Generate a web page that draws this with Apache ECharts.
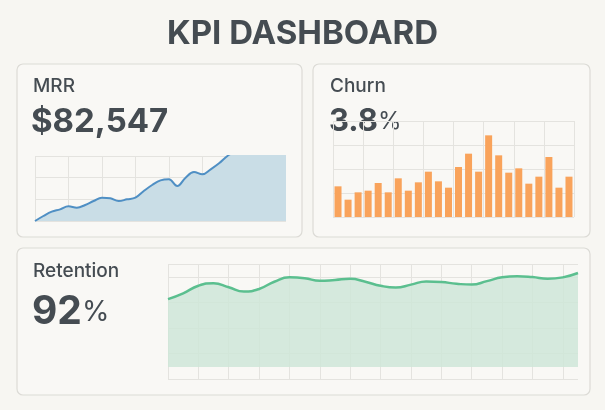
<!DOCTYPE html><html><head><meta charset="utf-8">
<script src="https://cdn.jsdelivr.net/npm/echarts@6/dist/echarts.min.js"></script>
<style>html,body{margin:0;padding:0;background:#f7f6f2}#c{width:605px;height:410px}</style></head><body><div id="c"></div>
<script>
const mrrValues=[0,15,28,35,44,40,48,60,70,68,60,65,70,90,108,122,125,105,130,147,140,155,173,195,208,204,222,255,285,292,314];
const churnValues=[92,52,74,79,102,74,116,79,104,136,107,88,150,190,136,245,185,133,146,100,121,180,88,121];
const retentionValues=[234,254,280,289,275,260,269,294,309,306,297,300,304,294,280,274,284,295,293,287,284,296,309,313,310,304,309,324];
const idx=a=>a.map((_,i)=>i);
const ch=echarts.init(document.getElementById('c'));
const gl={show:true,lineStyle:{color:'#e4e3df',width:1}};
const font='Inter, "Noto Sans", sans-serif';
const card=(x,y,w,h)=>({type:'rect',shape:{x,y,width:w,height:h,r:6},style:{fill:'#f9f8f5',stroke:'#dcdbd6',lineWidth:1.2},z:-10});
const txt=(x,y,t,s,w)=>({type:'text',x,y,style:{text:t,fontSize:s,fontWeight:w||'normal',fill:'#454c52',fontFamily:font}});
ch.setOption({
 backgroundColor:'#f7f6f2',
 title:{text:'KPI DASHBOARD',left:'center',top:13,textStyle:{fontSize:33,fontWeight:'bold',color:'#454c52',fontFamily:font}},
 graphic:[card(17,64,285,173),card(313,64,277,173),card(17,248,573,147),
  txt(33,77,'MRR',19,'500'),txt(31,106,'$82,547',33,'bold'),
  txt(330,77,'Churn',19,'500'),
  {type:'text',x:329,y:106,style:{rich:{a:{fontSize:31,fontWeight:'bold',fill:'#454c52',fontFamily:font},b:{fontSize:24,fill:'#454c52',fontFamily:font}},text:'{a|3.8}{b|%}'}},
  txt(33,262,'Retention',19,'500'),
  {type:'text',x:32,y:293,style:{rich:{a:{fontSize:39,fontWeight:'bold',fill:'#454c52',fontFamily:font},b:{fontSize:28,fill:'#454c52',fontFamily:font}},text:'{a|92}{b|%}'}}
 ],
 grid:[{left:35,width:251,top:156,height:65},{left:333,width:241,top:121,height:96},{left:168,width:410,top:264,height:115}],
 xAxis:[
  {gridIndex:0,type:'category',boundaryGap:false,data:idx(mrrValues),axisLine:{show:false},axisTick:{show:false},axisLabel:{show:false},splitLine:Object.assign({interval:3},gl)},
  {gridIndex:1,type:'category',data:idx(churnValues),axisLine:{show:false},axisTick:{show:false},axisLabel:{show:false},splitLine:Object.assign({interval:2},gl)},
  {gridIndex:2,type:'category',boundaryGap:false,data:idx(retentionValues),axisLine:{show:false},axisTick:{show:false},axisLabel:{show:false},splitLine:Object.assign({interval:1},gl)}],
 yAxis:[
  {gridIndex:0,type:'value',min:0,max:195,interval:65,axisLabel:{show:false},splitLine:gl},
  {gridIndex:1,type:'value',min:0,max:288,interval:72,axisLabel:{show:false},splitLine:gl},
  {gridIndex:2,type:'value',min:-41,max:355,interval:88,axisLabel:{show:false},splitLine:gl}],
 series:[
  {type:'line',xAxisIndex:0,yAxisIndex:0,data:mrrValues,clip:false,smooth:0.4,symbol:'none',lineStyle:{color:'#4f8fc4',width:2},areaStyle:{color:'#c9dde6',opacity:1}},
  {type:'bar',xAxisIndex:1,yAxisIndex:1,data:churnValues,barWidth:7,itemStyle:{color:'#f9a35b'}},
  {type:'line',xAxisIndex:2,yAxisIndex:2,data:retentionValues,smooth:0.5,symbol:'none',lineStyle:{color:'#5bbf8f',width:2.5},areaStyle:{color:'#cfe6d8',opacity:0.85}}
 ]
});
</script></body></html>
